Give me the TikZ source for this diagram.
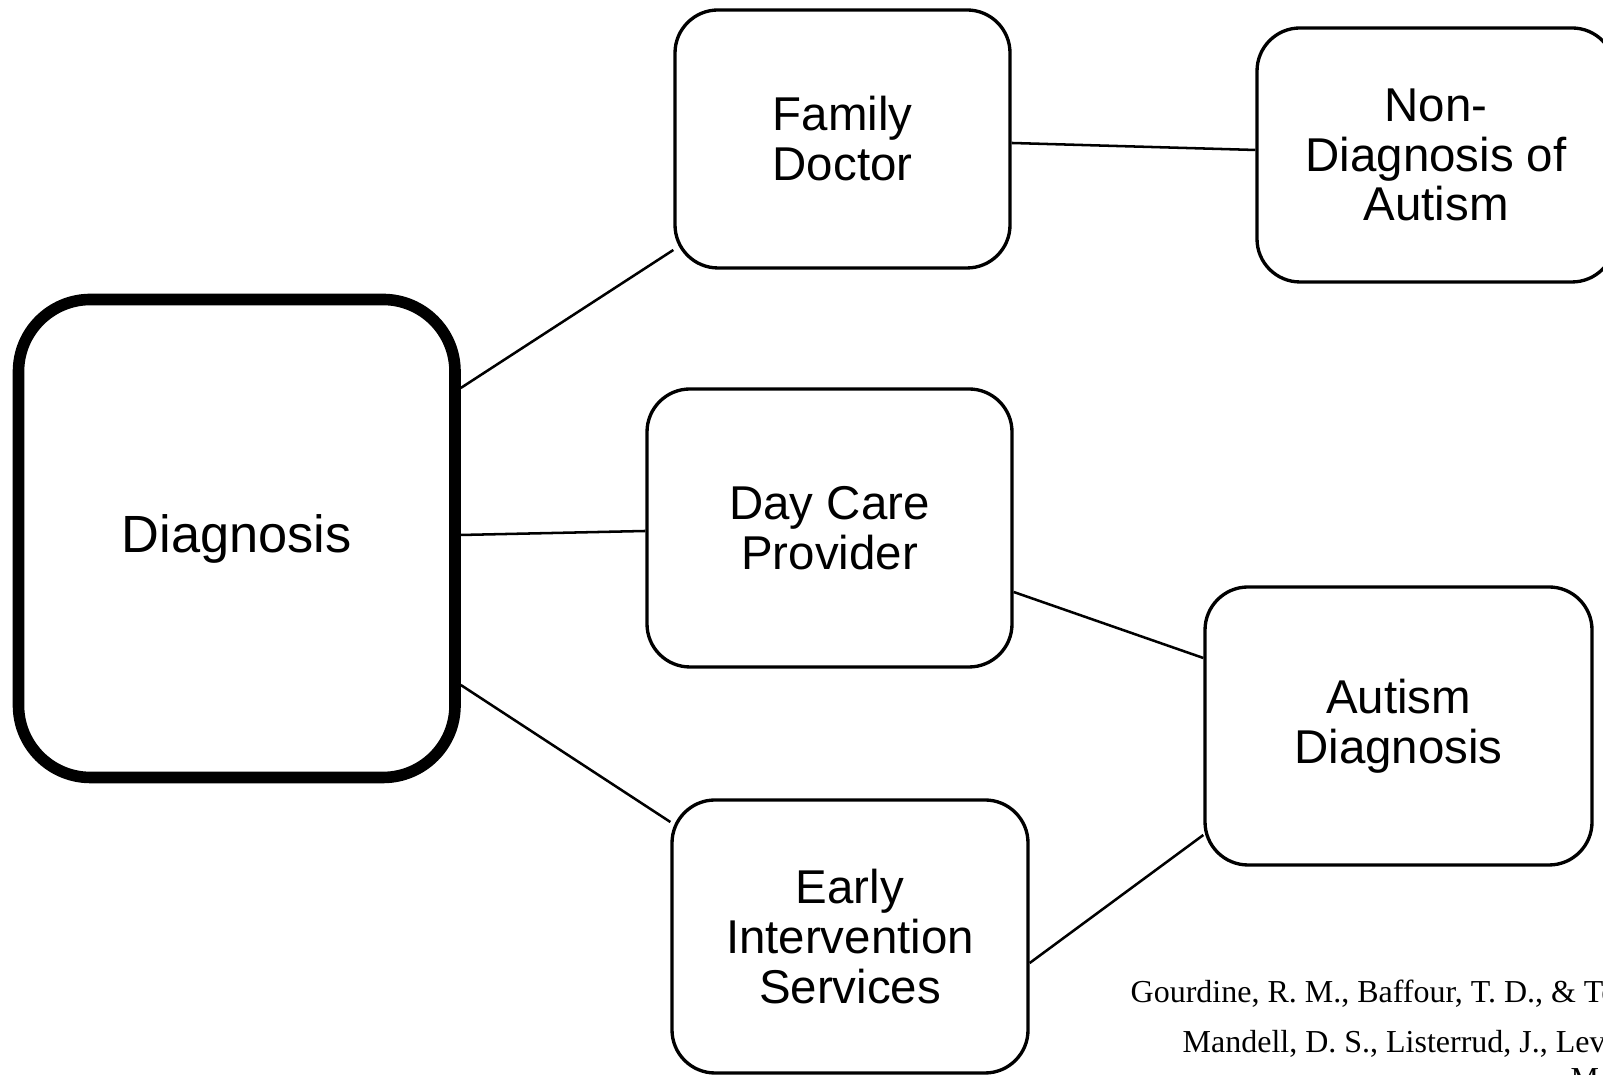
\documentclass[tikz,border=0pt]{standalone}
\usepackage{fontspec}
\setmainfont{Liberation Sans}
\newfontfamily\citefont{Liberation Serif}
\begin{document}
\begin{tikzpicture}[
  box/.style={draw=black, line width=0.95pt, rounded corners=0.43cm, fill=white,
    align=center, inner sep=0pt,
    font=\fontsize{13.5pt}{14.2pt}\selectfont},
  mainbox/.style={box, line width=3.3pt, rounded corners=0.72cm,
    font=\fontsize{14.9pt}{16pt}\selectfont},
  link/.style={draw=black, line width=0.72pt},
  cite/.style={anchor=base west, inner sep=0pt,
    font=\citefont\fontsize{9.1pt}{14.2pt}\selectfont}
]
\useasboundingbox (0,0) rectangle (16.03,10.75);
\clip (0,0) rectangle (16.03,10.75);

% boxes
\node[mainbox, minimum width=4.365cm, minimum height=4.78cm] (diag) at (2.3675,5.365) {Diagnosis};
\node[box, minimum width=3.35cm, minimum height=2.58cm] (fd) at (8.425,9.36) {Family\\Doctor};
\node[box, minimum width=3.65cm, minimum height=2.78cm] (dc) at (8.295,5.47) {Day Care\\Provider};
\node[box, minimum width=3.56cm, minimum height=2.73cm] (ei) at (8.50,1.385) {Early\\Intervention\\Services};
\node[box, minimum width=3.87cm, minimum height=2.78cm] (ad) at (13.985,3.49) {Autism\\Diagnosis};
\node[box, minimum width=3.58cm, minimum height=2.54cm] (nd) at (14.36,9.20) {Non-\\Diagnosis of\\Autism};

% connectors
\draw[link] ([yshift=1.505cm]diag.east) -- ([yshift=-1.11cm]fd.west);
\draw[link] ([yshift=0.035cm]diag.east) -- ([yshift=-0.03cm]dc.west);
\draw[link] ([yshift=-1.465cm]diag.east) -- ([yshift=1.145cm]ei.west);
\draw[link] ([yshift=-0.04cm]fd.east) -- ([yshift=0.05cm]nd.west);
\draw[link] ([yshift=-0.64cm]dc.east) -- ([yshift=0.68cm]ad.west);
\draw[link] ([yshift=-0.265cm]ei.east) -- ([yshift=-1.09cm]ad.west);

% reference lines
\node[cite] (c1) at (11.30,0.72) {Gourdine, R. M., Baffour, T. D., \& Te};
\node[cite] (c2) at (11.82,0.22) {Mandell, D. S., Listerrud, J., Lev};
\node[cite] (c3) at (15.70,-0.15) {M};
\end{tikzpicture}
\end{document}
